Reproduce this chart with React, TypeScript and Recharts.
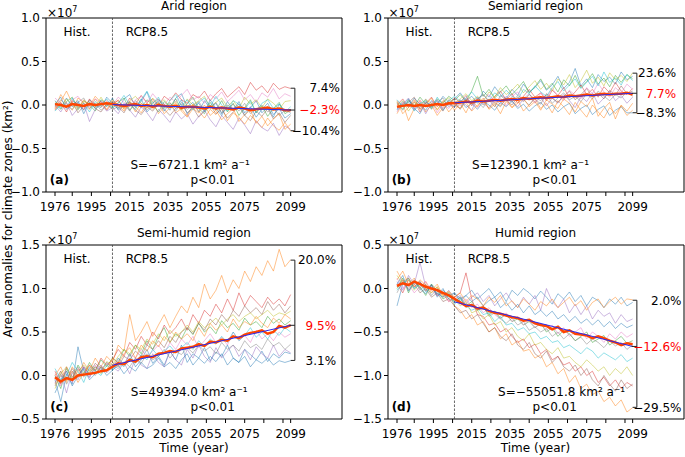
import React from "react";
import {
  LineChart, Line, XAxis, YAxis, ReferenceLine, ReferenceArea, ReferenceDot,
} from "recharts";

// values are area anomalies in units of 1e7 km², sampled every 3 years
const years = [1976, 1979, 1982, 1985, 1988, 1991, 1994, 1997, 2000, 2003, 2006, 2009, 2012, 2015, 2018, 2021, 2024, 2027, 2030, 2033, 2036, 2039, 2042, 2045, 2048, 2051, 2054, 2057, 2060, 2063, 2066, 2069, 2072, 2075, 2078, 2081, 2084, 2087, 2090, 2093, 2096, 2099];

const xTicks = [1976, 1985, 1995, 2005, 2015, 2025, 2035, 2045, 2055, 2065, 2075, 2085, 2095, 2099];
const xTickLabels = [1976, 1995, 2015, 2035, 2055, 2075, 2099];

// Arid
const aridModels = [
  [0.05,-0.04,0.08,-0.02,0.03,-0.06,0.06,0.01,-0.03,0.09,0.02,-0.05,0.07,0.12,-0.02,0.04,0.15,-0.03,0.06,0.01,-0.06,0.08,0.13,-0.02,0.03,-0.08,0.05,-0.04,0.02,-0.10,0.04,-0.06,0.01,-0.12,-0.03,0.05,-0.09,-0.02,-0.14,0.01,-0.07,-0.05],
  [-0.03,0.12,0.02,-0.06,0.08,0.03,-0.05,0.07,-0.02,0.04,-0.01,0.06,-0.05,0.03,-0.08,0.02,-0.04,0.05,-0.10,-0.02,0.03,-0.09,-0.04,-0.13,0.01,-0.07,-0.15,-0.05,-0.11,-0.02,-0.18,-0.09,-0.14,-0.22,-0.12,-0.19,-0.26,-0.15,-0.24,-0.29,-0.2,-0.3],
  [0.02,-0.05,0.04,0.09,-0.03,0.05,0.0,-0.07,0.06,0.02,-0.04,0.03,0.08,-0.06,0.02,-0.03,0.06,0.0,-0.08,0.04,-0.02,0.07,-0.05,0.01,0.09,-0.04,-0.1,0.03,-0.06,0.05,-0.08,0.02,-0.12,-0.03,0.06,-0.09,-0.01,-0.13,-0.04,0.03,-0.1,-0.06],
  [-0.04,0.03,-0.08,0.05,0.01,-0.05,0.07,-0.02,0.04,-0.06,0.02,0.05,-0.03,0.08,0.01,0.11,0.03,0.07,-0.01,0.1,0.05,0.14,0.06,0.02,0.12,0.08,0.16,0.05,0.13,0.19,0.09,0.15,0.21,0.12,0.26,0.17,0.22,0.14,0.25,0.18,0.21,0.19],
  [0.0,-0.08,0.03,-0.12,-0.04,0.02,-0.19,-0.05,0.01,-0.07,-0.03,-0.1,0.02,-0.06,-0.14,-0.02,-0.09,-0.18,-0.05,-0.12,-0.2,-0.08,-0.16,-0.1,-0.22,-0.13,-0.06,-0.17,-0.25,-0.12,-0.2,-0.28,-0.15,-0.23,-0.33,-0.18,-0.26,-0.3,-0.21,-0.35,-0.24,-0.28],
  [-0.06,0.02,-0.03,0.04,-0.09,-0.01,0.05,-0.04,-0.08,0.01,-0.05,-0.02,-0.09,0.03,-0.06,-0.11,-0.02,-0.07,0.02,-0.05,-0.12,-0.04,0.01,-0.09,-0.03,-0.14,-0.07,0.0,-0.1,-0.05,-0.15,-0.08,-0.02,-0.12,-0.18,-0.07,-0.13,-0.04,-0.16,-0.09,-0.2,-0.12],
  [0.08,0.02,-0.03,0.06,0.1,0.01,-0.02,0.07,0.03,0.05,0.0,0.09,0.03,-0.02,0.06,0.1,0.02,0.13,0.05,0.0,0.09,0.03,0.11,0.18,0.06,0.1,0.02,0.12,0.07,0.15,0.04,0.1,0.17,0.06,0.12,0.03,0.14,0.09,0.19,0.07,0.13,0.1],
  [-0.02,0.06,0.0,-0.05,0.03,0.08,-0.04,0.02,-0.06,0.0,0.04,-0.03,0.01,-0.07,0.05,-0.01,-0.06,0.02,0.07,-0.03,0.0,-0.07,0.03,-0.05,-0.01,0.04,-0.06,-0.02,0.03,-0.09,-0.04,0.01,-0.07,0.02,-0.1,-0.05,0.0,-0.08,-0.03,-0.12,-0.06,-0.09],
  [0.04,-0.02,0.07,0.0,-0.06,0.04,0.02,-0.03,0.09,-0.01,0.06,0.0,-0.04,0.05,0.1,0.02,-0.03,0.08,0.01,0.06,-0.02,0.04,-0.06,0.07,0.0,0.05,0.1,-0.03,0.03,0.08,-0.02,0.05,-0.04,0.09,0.01,0.06,-0.03,0.07,0.02,-0.05,0.04,0.05],
  [-0.07,0.0,-0.02,0.08,-0.05,0.02,-0.08,0.04,-0.01,0.07,-0.03,0.02,0.11,0.0,-0.05,0.06,0.16,0.02,0.09,-0.04,0.05,0.12,-0.01,0.06,-0.06,0.03,0.08,-0.02,0.1,0.0,-0.07,0.05,0.01,-0.05,0.04,-0.09,0.02,0.06,-0.04,0.01,-0.08,-0.02],
  [0.01,0.09,-0.05,0.0,0.05,-0.1,0.03,-0.04,0.05,-0.02,0.08,-0.06,0.0,0.04,-0.03,0.07,-0.08,-0.01,0.04,-0.07,0.02,-0.04,0.06,-0.1,-0.03,0.02,-0.08,0.06,-0.04,-0.12,0.0,-0.06,0.04,-0.09,-0.02,-0.14,-0.05,0.02,-0.11,-0.04,-0.15,-0.1],
  [-0.05,0.04,0.16,0.02,-0.04,0.06,-0.01,0.1,0.03,-0.05,0.05,0.0,-0.07,0.04,-0.02,-0.09,0.02,-0.05,0.03,-0.1,-0.03,0.02,-0.07,-0.14,-0.04,-0.09,0.0,-0.12,-0.06,-0.17,-0.1,-0.04,-0.19,-0.11,-0.06,-0.21,-0.13,-0.24,-0.16,-0.1,-0.28,-0.22],
];
const aridMean = [0.01,0.0,-0.02,0.01,0.0,-0.01,0.01,0.0,0.01,0.02,0.01,0.0,-0.01,0.0,0.01,-0.01,0.0,-0.02,0.0,-0.01,-0.02,-0.01,-0.03,-0.02,-0.02,-0.03,-0.04,-0.02,-0.04,-0.03,-0.04,-0.05,-0.03,-0.04,-0.06,-0.05,-0.04,-0.03,-0.05,-0.04,-0.06,-0.06];
const aridTrend = [0.005, -0.058];
const aridRange = [0.193, -0.058, -0.296];
const aridPct = ["7.4%", "\u22122.3%", "\u221210.4%"];

// Semiarid
const semiaridModels = [
  [-0.05,0.04,-0.02,0.08,0.01,-0.06,0.05,0.0,0.1,0.03,0.07,0.14,0.05,0.1,0.02,0.16,0.09,0.21,0.12,0.07,0.18,0.11,0.24,0.15,0.2,0.28,0.17,0.23,0.33,0.19,0.26,0.42,0.22,0.3,0.2,0.35,0.27,0.32,0.24,0.38,0.29,0.33],
  [-0.1,0.02,-0.18,-0.04,0.05,-0.08,0.0,-0.12,-0.03,0.04,-0.06,0.02,-0.09,0.05,-0.02,0.08,-0.05,0.01,-0.1,0.04,-0.03,0.06,-0.07,0.0,0.07,-0.04,0.02,-0.09,0.05,-0.02,-0.11,0.03,-0.06,-0.14,0.0,-0.08,-0.15,-0.03,-0.1,-0.01,-0.12,-0.06],
  [0.03,-0.05,0.06,-0.02,0.09,0.01,-0.04,0.07,0.02,0.1,0.05,0.12,0.04,0.16,0.33,0.1,0.18,0.08,0.15,0.22,0.12,0.19,0.27,0.14,0.21,0.3,0.18,0.25,0.15,0.29,0.22,0.34,0.2,0.27,0.36,0.24,0.31,0.21,0.34,0.26,0.35,0.3],
  [0.0,0.07,-0.03,0.04,-0.08,0.02,0.09,-0.02,0.05,0.0,0.08,0.03,0.11,-0.01,0.07,0.12,0.04,0.1,0.16,0.06,0.13,0.02,0.1,0.18,0.09,0.14,0.05,0.17,0.11,0.2,0.08,0.15,0.23,0.12,0.18,0.09,0.21,0.14,0.26,0.16,0.12,0.19],
  [-0.04,0.01,0.08,-0.06,0.03,-0.1,0.02,0.06,-0.04,0.01,-0.03,0.05,0.0,-0.06,0.08,0.02,-0.03,0.06,0.01,0.1,0.04,-0.02,0.07,0.13,0.03,0.09,-0.01,0.08,0.02,0.12,0.05,-0.03,0.1,0.04,0.14,0.01,0.08,0.16,0.05,0.11,0.02,0.09],
  [0.05,-0.02,0.03,0.09,-0.05,0.04,-0.01,0.02,-0.07,0.06,0.01,-0.04,0.07,0.03,0.09,0.0,0.06,-0.02,0.11,0.05,0.0,0.09,0.04,0.12,0.07,0.01,0.13,0.08,0.03,0.1,0.16,0.06,0.12,0.19,0.09,0.14,0.07,0.17,0.11,0.22,0.13,0.16],
  [-0.08,0.03,0.0,-0.05,0.06,-0.02,0.04,-0.09,0.01,-0.04,0.05,-0.01,0.08,0.02,-0.03,0.06,0.12,0.03,0.08,-0.01,0.1,0.15,0.05,0.09,0.02,0.14,0.08,0.19,0.1,0.05,0.17,0.11,0.07,0.2,0.13,0.25,0.15,0.09,0.2,0.14,0.24,0.18],
  [0.02,-0.06,0.05,0.0,-0.03,0.07,-0.05,0.03,0.08,-0.02,0.04,-0.05,0.06,0.01,0.04,-0.03,0.07,0.02,-0.02,0.08,0.03,0.11,0.06,0.0,0.09,0.05,0.12,0.02,0.08,0.14,0.06,0.1,0.04,0.13,0.07,0.16,0.1,0.05,0.12,0.08,0.15,0.1],
  [-0.02,0.05,-0.07,0.03,0.0,0.06,0.02,-0.05,0.04,0.08,0.02,0.07,0.13,0.05,0.1,0.04,0.15,0.09,0.2,0.12,0.17,0.24,0.14,0.21,0.28,0.18,0.25,0.16,0.3,0.23,0.35,0.2,0.28,0.4,0.25,0.32,0.22,0.37,0.29,0.34,0.27,0.37],
  [0.06,-0.01,0.04,-0.07,0.02,0.05,-0.03,0.09,0.0,0.05,0.1,0.04,0.08,0.15,0.07,0.12,0.05,0.14,0.09,0.17,0.1,0.06,0.18,0.13,0.22,0.15,0.1,0.2,0.27,0.16,0.23,0.3,0.19,0.26,0.33,0.22,0.38,0.26,0.31,0.23,0.35,0.28],
  [-0.06,0.0,0.07,-0.04,-0.1,0.03,-0.02,0.05,-0.06,0.02,-0.02,0.06,-0.03,0.02,-0.05,0.04,0.0,-0.06,0.03,-0.02,0.05,-0.04,0.01,-0.07,-0.01,0.03,-0.05,0.0,-0.08,-0.02,0.02,-0.1,-0.04,0.0,-0.11,-0.05,-0.01,-0.12,-0.06,-0.02,-0.09,-0.09],
  [0.04,-0.1,-0.03,0.06,-0.05,0.0,0.08,-0.06,0.03,-0.08,0.0,-0.04,0.03,-0.07,0.0,0.05,-0.04,0.03,-0.01,0.07,-0.03,0.02,0.08,-0.02,0.04,-0.06,0.06,0.01,-0.04,0.07,0.02,-0.08,0.04,-0.02,0.08,-0.13,-0.04,0.03,-0.16,0.0,-0.07,0.02],
];
const semiaridMean = [-0.02,-0.01,0.0,-0.01,0.0,-0.01,0.0,0.01,0.0,0.02,0.02,0.03,0.04,0.03,0.05,0.04,0.05,0.06,0.05,0.06,0.07,0.06,0.08,0.07,0.08,0.09,0.08,0.09,0.1,0.09,0.11,0.1,0.11,0.12,0.11,0.12,0.13,0.12,0.13,0.13,0.14,0.12];
const semiaridTrend = [0.025, 0.135];
const semiaridRange = [0.366, 0.135, -0.089];
const semiaridPct = ["23.6%", "7.7%", "\u22128.3%"];

// Semi-humid
const semihumidModels = [
  [-0.05,-0.3,0.02,-0.1,0.33,0.05,-0.02,0.1,0.06,0.15,0.08,0.2,0.12,0.25,0.1,0.18,0.3,0.14,0.22,0.12,0.28,0.18,0.35,0.15,0.25,0.2,0.32,0.17,0.27,0.22,0.35,0.2,0.15,0.3,0.24,0.18,0.28,0.16,0.25,0.2,0.27,0.25],
  [-0.1,0.05,-0.08,0.1,0.0,0.15,0.05,0.2,0.1,0.22,0.15,0.35,0.28,0.7,0.4,0.5,0.62,0.45,0.58,0.7,0.55,0.68,0.8,0.72,0.9,0.78,1.05,0.88,0.98,1.15,0.95,1.1,1.0,1.2,1.08,1.25,1.15,1.32,1.2,1.45,1.25,1.33],
  [0.0,-0.15,0.08,-0.05,0.12,0.02,0.15,0.05,0.18,0.1,0.2,0.15,0.3,0.22,0.35,0.25,0.4,0.3,0.45,0.55,0.38,0.48,0.42,0.55,0.47,0.6,0.5,0.56,0.48,0.63,0.55,0.6,0.52,0.66,0.58,0.62,0.55,0.68,0.6,0.65,0.58,0.63],
  [0.05,-0.1,0.1,-0.02,0.08,0.0,0.12,0.06,0.2,0.12,0.18,0.3,0.22,0.38,0.3,0.45,0.35,0.5,0.42,0.58,0.48,0.55,0.65,0.52,0.7,0.6,0.75,0.68,0.82,0.72,0.88,0.75,0.95,0.8,0.92,0.85,0.78,0.9,0.82,0.88,0.8,0.93],
  [-0.08,0.02,-0.2,0.05,-0.05,0.1,0.0,0.05,0.12,0.03,0.1,0.05,0.15,0.02,0.2,0.12,0.08,0.25,0.15,0.1,0.28,0.18,0.12,0.3,0.2,0.35,0.22,0.15,0.32,0.2,0.28,0.35,0.22,0.3,0.18,0.33,0.25,0.2,0.35,0.22,0.3,0.26],
  [-0.12,0.0,-0.05,0.08,-0.02,0.1,0.02,0.14,0.08,0.05,0.15,0.1,0.22,0.18,0.28,0.22,0.35,0.3,0.4,0.32,0.45,0.38,0.5,0.55,0.48,0.6,0.52,0.65,0.58,0.7,0.62,0.75,0.68,0.8,0.72,0.78,0.7,0.85,0.75,0.82,0.72,0.8],
  [0.02,-0.12,0.05,-0.08,0.06,0.1,-0.03,0.12,0.05,0.15,0.1,0.18,0.12,0.25,0.2,0.3,0.22,0.28,0.35,0.25,0.38,0.3,0.42,0.35,0.45,0.32,0.4,0.48,0.38,0.44,0.35,0.5,0.4,0.46,0.38,0.52,0.42,0.48,0.4,0.5,0.44,0.48],
  [-0.05,0.05,-0.1,0.02,0.1,-0.02,0.08,0.0,0.1,0.05,0.12,0.08,0.16,0.1,0.2,0.14,0.25,0.18,0.22,0.3,0.2,0.28,0.24,0.32,0.26,0.35,0.28,0.33,0.25,0.38,0.3,0.35,0.28,0.4,0.32,0.36,0.3,0.42,0.34,0.38,0.3,0.36],
  [-0.15,0.02,0.1,-0.05,0.05,0.12,0.04,0.1,0.02,0.16,0.12,0.22,0.3,0.25,0.35,0.3,0.42,0.36,0.48,0.4,0.52,0.45,0.5,0.58,0.5,0.62,0.55,0.6,0.66,0.58,0.65,0.7,0.62,0.68,0.72,0.65,0.7,0.75,0.68,0.72,0.7,0.74],
  [0.08,-0.05,0.0,0.15,0.05,-0.08,0.1,0.05,0.0,0.12,0.06,0.15,0.1,0.2,0.14,0.24,0.18,0.3,0.22,0.28,0.34,0.26,0.32,0.38,0.3,0.4,0.33,0.42,0.36,0.45,0.38,0.5,0.4,0.46,0.55,0.44,0.5,0.42,0.52,0.46,0.55,0.5],
  [-0.2,-0.05,0.05,-0.12,0.0,0.08,-0.05,0.02,0.1,0.0,0.06,0.12,0.02,0.1,0.05,0.15,0.08,0.12,0.2,0.1,0.15,0.08,0.18,0.25,0.12,0.2,0.14,0.22,0.16,0.25,0.12,0.2,0.15,0.22,0.1,0.18,0.14,0.2,0.12,0.17,0.15,0.17],
  [0.0,0.1,-0.06,0.05,-0.08,0.03,0.12,0.02,0.1,0.06,0.2,0.14,0.25,0.32,0.2,0.35,0.28,0.4,0.33,0.45,0.38,0.5,0.42,0.48,0.4,0.55,0.45,0.6,0.52,0.58,0.5,0.65,0.55,0.62,0.58,0.68,0.6,0.55,0.66,0.6,0.7,0.65],
];
const semihumidMean = [-0.02,-0.07,-0.03,-0.05,0.0,0.01,0.02,0.03,0.05,0.06,0.1,0.14,0.13,0.18,0.16,0.21,0.22,0.21,0.25,0.26,0.28,0.27,0.31,0.32,0.33,0.36,0.34,0.39,0.38,0.41,0.4,0.45,0.43,0.47,0.49,0.5,0.52,0.48,0.5,0.57,0.55,0.58];
const semihumidTrend = [0.118, 0.577];
const semihumidRange = [1.326, 0.577, 0.173];
const semihumidPct = ["20.0%", "9.5%", "3.1%"];

// Humid
const humidModels = [
  [-0.2,0.05,0.12,0.0,0.08,-0.02,0.05,-0.08,0.0,-0.12,-0.05,-0.15,-0.08,-0.02,-0.12,-0.06,0.0,-0.1,-0.04,-0.15,-0.02,-0.08,0.0,-0.05,-0.12,-0.03,-0.1,-0.18,-0.06,-0.12,-0.04,-0.15,-0.08,-0.2,-0.1,-0.14,-0.22,-0.12,-0.18,-0.1,-0.2,-0.16],
  [0.1,0.2,0.05,0.12,0.0,0.08,-0.05,0.02,-0.1,-0.05,-0.2,-0.25,-0.35,-0.3,-0.42,-0.38,-0.5,-0.45,-0.58,-0.52,-0.65,-0.6,-0.72,-0.7,-0.8,-0.76,-0.9,-0.85,-0.98,-0.92,-1.08,-1.0,-1.15,-1.1,-1.22,-1.18,-1.3,-1.25,-1.35,-1.28,-1.42,-1.37],
  [0.0,0.12,-0.05,0.08,0.02,-0.08,0.05,-0.02,-0.12,-0.08,-0.15,-0.1,-0.2,-0.15,-0.25,-0.22,-0.3,-0.26,-0.34,-0.3,-0.38,-0.35,-0.42,-0.38,-0.45,-0.4,-0.5,-0.45,-0.55,-0.48,-0.52,-0.6,-0.55,-0.5,-0.62,-0.58,-0.54,-0.65,-0.6,-0.55,-0.63,-0.6],
  [0.05,-0.05,0.1,0.02,0.08,-0.03,0.04,-0.08,-0.05,-0.15,-0.1,-0.05,0.18,-0.12,-0.3,-0.32,-0.42,-0.4,-0.5,-0.46,-0.55,-0.62,-0.58,-0.68,-0.64,-0.75,-0.7,-0.82,-0.78,-0.88,-0.85,-0.95,-0.9,-1.0,-0.95,-1.08,-1.02,-1.12,-1.05,-1.15,-1.08,-1.12],
  [0.08,-0.02,0.15,0.05,0.3,0.02,0.0,-0.05,-0.1,-0.02,-0.12,-0.08,-0.18,-0.1,-0.05,-0.15,-0.08,-0.2,-0.12,-0.05,-0.15,-0.22,-0.1,-0.18,-0.08,-0.25,0.0,-0.15,-0.22,-0.12,-0.28,-0.18,-0.3,-0.2,-0.35,-0.25,-0.32,-0.28,-0.4,-0.3,-0.38,-0.35],
  [0.02,0.1,-0.02,0.05,-0.05,0.0,-0.1,-0.05,-0.15,-0.12,-0.2,-0.28,-0.25,-0.35,-0.3,-0.4,-0.5,-0.45,-0.55,-0.6,-0.52,-0.65,-0.7,-0.62,-0.75,-0.8,-0.72,-0.85,-0.78,-0.9,-0.95,-0.88,-1.0,-0.92,-1.05,-1.12,-1.0,-1.1,-1.18,-1.05,-1.15,-1.1],
  [0.12,0.0,0.05,-0.05,0.02,0.08,-0.02,-0.08,-0.05,-0.15,-0.1,-0.18,-0.12,-0.22,-0.18,-0.28,-0.22,-0.3,-0.35,-0.28,-0.38,-0.32,-0.42,-0.36,-0.45,-0.4,-0.48,-0.42,-0.52,-0.45,-0.55,-0.5,-0.45,-0.58,-0.5,-0.55,-0.62,-0.52,-0.58,-0.5,-0.56,-0.52],
  [-0.05,0.08,0.0,0.1,-0.02,0.05,-0.08,0.0,-0.05,-0.12,-0.15,-0.1,-0.22,-0.18,-0.25,-0.2,-0.32,-0.28,-0.35,-0.4,-0.34,-0.42,-0.38,-0.48,-0.44,-0.5,-0.46,-0.55,-0.5,-0.58,-0.52,-0.6,-0.56,-0.64,-0.58,-0.62,-0.68,-0.6,-0.66,-0.62,-0.7,-0.65],
  [0.15,0.05,0.1,-0.02,0.06,0.0,-0.05,0.02,-0.08,-0.04,-0.12,-0.2,-0.15,-0.28,-0.25,-0.35,-0.3,-0.42,-0.38,-0.5,-0.45,-0.55,-0.6,-0.52,-0.65,-0.62,-0.7,-0.75,-0.68,-0.8,-0.78,-0.85,-0.9,-0.82,-0.88,-0.95,-0.9,-1.0,-0.92,-0.98,-0.9,-1.0],
  [-0.02,0.06,0.12,0.0,0.05,-0.04,0.02,-0.06,-0.1,-0.05,-0.18,-0.12,-0.2,-0.25,-0.22,-0.3,-0.28,-0.38,-0.32,-0.42,-0.4,-0.48,-0.45,-0.52,-0.5,-0.58,-0.55,-0.62,-0.6,-0.68,-0.65,-0.7,-0.75,-0.68,-0.72,-0.8,-0.74,-0.78,-0.82,-0.76,-0.84,-0.8],
  [0.05,0.15,-0.03,0.08,0.0,-0.06,0.04,-0.1,-0.02,-0.08,-0.05,-0.12,-0.08,-0.15,-0.1,-0.2,-0.14,-0.1,-0.22,-0.16,-0.25,-0.18,-0.28,-0.2,-0.3,-0.25,-0.32,-0.26,-0.35,-0.3,-0.38,-0.32,-0.4,-0.35,-0.42,-0.36,-0.44,-0.38,-0.46,-0.4,-0.45,-0.42],
  [0.2,0.08,0.12,0.02,0.1,0.04,-0.02,0.05,-0.08,-0.03,-0.1,-0.05,-0.15,-0.08,-0.12,-0.2,-0.1,-0.16,-0.08,-0.2,-0.14,-0.22,-0.12,-0.18,-0.25,-0.15,-0.2,-0.12,-0.22,-0.16,-0.1,-0.2,-0.14,-0.25,-0.16,-0.12,-0.22,-0.15,-0.1,-0.18,-0.12,-0.13],
];
const humidMean = [0.03,0.06,0.04,0.08,0.05,0.02,0.0,-0.02,-0.05,-0.08,-0.12,-0.16,-0.2,-0.19,-0.23,-0.22,-0.26,-0.28,-0.29,-0.31,-0.33,-0.34,-0.37,-0.36,-0.4,-0.42,-0.43,-0.47,-0.44,-0.5,-0.48,-0.52,-0.53,-0.54,-0.57,-0.55,-0.57,-0.6,-0.62,-0.65,-0.63,-0.64];
const humidTrend = [-0.154, -0.666];
const humidRange = [-0.135, -0.666, -1.366];
const humidPct = ["2.0%", "\u221212.6%", "\u221229.5%"];

const FONT = "DejaVu Sans";
const COLORS = ["#1f77b4", "#ff7f0e", "#2ca02c", "#d62728", "#9467bd", "#8c564b", "#e377c2", "#7f7f7f", "#bcbd22", "#17becf"];
const X_DOMAIN: [number, number] = [1971.3, 2125.8];
const PLOT_H = 174;
const BRACKET_X = 2101.2;

const fmtY = (v: number) => (v < 0 ? "\u2212" + Math.abs(v).toFixed(1) : v.toFixed(1));

type PanelProps = {
  title: string;
  tag: string;
  plotLeft: number;
  plotTop: number;
  yDomain: [number, number];
  yTicks: number[];
  models: number[][];
  mean: number[];
  trend: number[];
  range: number[];
  pct: string[];
  pctX: number;
  slope: string;
  slopeX: number;
};

function Panel(p: PanelProps) {
  const rows = years.map((year, i) => {
    const r: Record<string, number> = { year, mean: p.mean[i] };
    p.models.forEach((m, k) => (r["m" + k] = m[i]));
    return r;
  });
  const trendRows = [
    { year: 2006, trend: p.trend[0] },
    { year: 2099, trend: p.trend[1] },
  ];
  const [lo, hi] = p.yDomain;
  // vertical position of an annotation, in px below the plot top
  const yAt = (px: number) => hi - (px / PLOT_H) * (hi - lo);
  const txt = { fontSize: 12, fill: "#000", fontFamily: FONT };
  const note = (x: number, px: number, value: string, bold = false) => (
    <ReferenceDot
      x={x}
      y={yAt(px)}
      r={0}
      fill="none"
      stroke="none"
      label={{ value, position: "center", ...txt, fontWeight: bold ? "bold" : "normal" }}
    />
  );
  const pctLabel = (y: number, value: string, color: string) => (
    <ReferenceDot
      x={p.pctX}
      y={y}
      r={0}
      fill="none"
      stroke="none"
      label={{ value, position: "left", offset: 0, ...txt, fill: color }}
    />
  );
  const bk = "#222";
  return (
    <div style={{ position: "absolute", left: p.plotLeft - 46, top: p.plotTop - 18 }}>
      <LineChart width={345} height={228} data={rows} margin={{ top: 18, right: 3, left: 6, bottom: 6 }}>
        <XAxis
          dataKey="year"
          type="number"
          domain={X_DOMAIN}
          ticks={xTicks}
          interval={0}
          tickFormatter={(v: number) => (xTickLabels.includes(v) ? String(v) : "")}
          tickSize={4}
          tickMargin={6}
          axisLine={false}
          tickLine={{ stroke: "#000" }}
          tick={txt}
          height={30}
          allowDataOverflow
        />
        <YAxis
          type="number"
          domain={p.yDomain}
          ticks={p.yTicks}
          interval={0}
          tickFormatter={fmtY}
          width={40}
          tickSize={4}
          tickMargin={2}
          axisLine={false}
          tickLine={{ stroke: "#000" }}
          tick={txt}
          allowDataOverflow
        />
        <ReferenceLine x={2006} stroke="#444" strokeWidth={0.8} strokeDasharray="2.5 1.5" />
        {p.models.map((_, k) => (
          <Line
            key={k}
            dataKey={"m" + k}
            stroke={COLORS[k % COLORS.length]}
            strokeWidth={0.8}
            strokeOpacity={0.6}
            dot={false}
            isAnimationActive={false}
          />
        ))}
        <Line dataKey="mean" stroke="#ff4500" strokeWidth={2.5} dot={false} isAnimationActive={false} />
        <Line data={trendRows} dataKey="trend" stroke="#2a2aee" strokeWidth={1} dot={false} isAnimationActive={false} />
        <ReferenceArea x1={X_DOMAIN[0]} x2={X_DOMAIN[1]} y1={lo} y2={hi} fill="none" fillOpacity={0} stroke="#000" strokeWidth={1} />

        {/* spread bracket at the end of the century */}
        <ReferenceLine segment={[{ x: BRACKET_X, y: p.range[0] }, { x: BRACKET_X, y: p.range[2] }]} stroke={bk} strokeWidth={1} />
        <ReferenceLine segment={[{ x: 2099, y: p.range[0] }, { x: BRACKET_X, y: p.range[0] }]} stroke={bk} strokeWidth={1} />
        <ReferenceLine segment={[{ x: 2098.5, y: p.range[1] }, { x: BRACKET_X, y: p.range[1] }]} stroke={bk} strokeWidth={1} />
        <ReferenceLine segment={[{ x: 2099, y: p.range[2] }, { x: BRACKET_X, y: p.range[2] }]} stroke={bk} strokeWidth={1} />
        {pctLabel(p.range[0], p.pct[0], "#000")}
        {pctLabel(p.range[1], p.pct[1], "#ff0000")}
        {pctLabel(p.range[2], p.pct[2], "#000")}

        {note(1987.5, 13.5, "Hist.")}
        {note(2024.0, 13.5, "RCP8.5")}
        {note(p.slopeX, 147, p.slope)}
        {note(2058.3, 162, "p<0.01")}
        {note(1978.3, 162, p.tag, true)}
      </LineChart>
      <div
        style={{
          position: "absolute", left: 46, top: 18 - 19, width: 296, textAlign: "center",
          fontSize: 12, lineHeight: "14px", fontFamily: FONT,
        }}
      >
        {p.title}
      </div>
      <div style={{ position: "absolute", left: 47, top: 18 - 15, fontSize: 12, lineHeight: "14px", fontFamily: FONT }}>
        ×10<sup style={{ fontSize: 8, verticalAlign: "5px" }}>7</sup>
      </div>
    </div>
  );
}

export default function App() {
  return (
    <div
      style={{
        position: "absolute", left: 0, top: 0, width: 685, height: 457,
        overflow: "hidden", background: "#fff", fontFamily: FONT, color: "#000",
      }}
    >
      <Panel
        title="Arid region" tag="(a)" plotLeft={46} plotTop={18}
        yDomain={[-1, 1]} yTicks={[-1, -0.5, 0, 0.5, 1]}
        models={aridModels} mean={aridMean} trend={aridTrend}
        range={aridRange} pct={aridPct} pctX={2124.7}
        slope={"S=\u22126721.1 km\u00b2 a\u207b\u00b9"} slopeX={2046.5}
      />
      <Panel
        title="Semiarid region" tag="(b)" plotLeft={387.5} plotTop={18}
        yDomain={[-1, 1]} yTicks={[-1, -0.5, 0, 0.5, 1]}
        models={semiaridModels} mean={semiaridMean} trend={semiaridTrend}
        range={semiaridRange} pct={semiaridPct} pctX={2121.7}
        slope={"S=12390.1 km\u00b2 a\u207b\u00b9"} slopeX={2045.7}
      />
      <Panel
        title="Semi-humid region" tag="(c)" plotLeft={46} plotTop={245}
        yDomain={[-0.5, 1.5]} yTicks={[-0.5, 0, 0.5, 1, 1.5]}
        models={semihumidModels} mean={semihumidMean} trend={semihumidTrend}
        range={semihumidRange} pct={semihumidPct} pctX={2122.7}
        slope={"S=49394.0 km\u00b2 a\u207b\u00b9"} slopeX={2046.0}
      />
      <Panel
        title="Humid region" tag="(d)" plotLeft={387.5} plotTop={245}
        yDomain={[-1.5, 0.5]} yTicks={[-1.5, -1, -0.5, 0, 0.5]}
        models={humidModels} mean={humidMean} trend={humidTrend}
        range={humidRange} pct={humidPct} pctX={2124.5}
        slope={"S=\u221255051.8 km\u00b2 a\u207b\u00b9"} slopeX={2061.9}
      />
      <div
        style={{
          position: "absolute", left: 8 - 160, top: 219 - 7, width: 320, height: 14,
          textAlign: "center", fontSize: 12, lineHeight: "14px", transform: "rotate(-90deg)",
        }}
      >
        Area anomalies for climate zones (km²)
      </div>
      <div style={{ position: "absolute", left: 46, top: 441, width: 296, textAlign: "center", fontSize: 12, lineHeight: "14px" }}>
        Time (year)
      </div>
      <div style={{ position: "absolute", left: 387.5, top: 441, width: 296, textAlign: "center", fontSize: 12, lineHeight: "14px" }}>
        Time (year)
      </div>
    </div>
  );
}
